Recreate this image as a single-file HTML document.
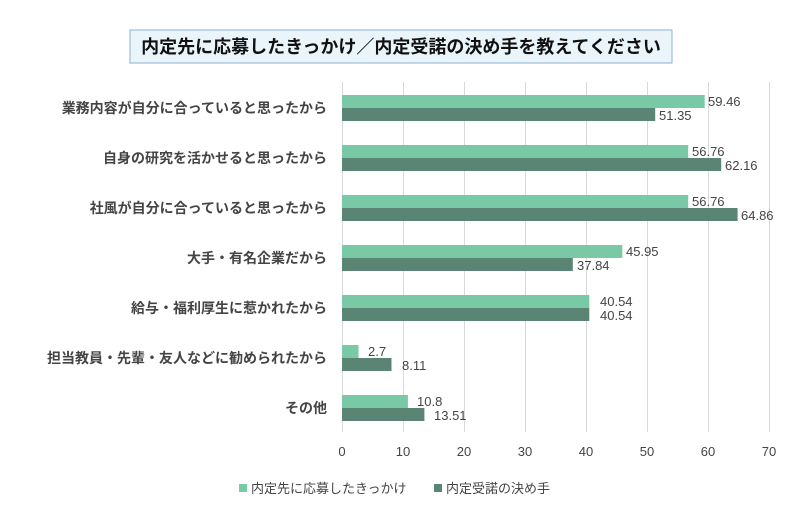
<!DOCTYPE html><html><head><meta charset="utf-8"><style>body{margin:0;background:#fff}svg{display:block}text{font-family:"Liberation Sans","Noto Sans CJK JP",sans-serif}</style></head><body>
<svg width="800" height="530" xmlns="http://www.w3.org/2000/svg">
<rect x="130" y="30" width="542" height="33" fill="#e9f5fb" stroke="#8eb2d0" stroke-width="1"/>
<text x="401" y="53" text-anchor="middle" font-size="18" font-weight="bold" fill="#111">内定先に応募したきっかけ／内定受諾の決め手を教えてください</text>
<g stroke="#d9d9d9" stroke-width="1">
<line x1="342.5" y1="82" x2="342.5" y2="432"/><line x1="403.5" y1="82" x2="403.5" y2="432"/><line x1="464.5" y1="82" x2="464.5" y2="432"/><line x1="525.5" y1="82" x2="525.5" y2="432"/><line x1="586.5" y1="82" x2="586.5" y2="432"/><line x1="647.5" y1="82" x2="647.5" y2="432"/><line x1="708.5" y1="82" x2="708.5" y2="432"/><line x1="769.5" y1="82" x2="769.5" y2="432"/>
</g>
<g font-size="13" fill="#444" text-anchor="middle">
<text x="342" y="456">0</text><text x="403" y="456">10</text><text x="464" y="456">20</text><text x="525" y="456">30</text><text x="586" y="456">40</text><text x="647" y="456">50</text><text x="708" y="456">60</text><text x="769" y="456">70</text>
</g>
<g font-size="14" fill="#444" text-anchor="end" font-weight="bold">
<text x="327" y="113">業務内容が自分に合っていると思ったから</text>
<text x="327" y="163">自身の研究を活かせると思ったから</text>
<text x="327" y="213">社風が自分に合っていると思ったから</text>
<text x="327" y="263">大手・有名企業だから</text>
<text x="327" y="313">給与・福利厚生に惹かれたから</text>
<text x="327" y="363">担当教員・先輩・友人などに勧められたから</text>
<text x="327" y="413">その他</text>
</g>
<g fill="#79c8a6">
<rect x="342" y="95" width="362.7" height="13"/><rect x="342" y="145" width="346.2" height="13"/><rect x="342" y="195" width="346.2" height="13"/><rect x="342" y="245" width="280.3" height="13"/><rect x="342" y="295" width="247.3" height="13"/><rect x="342" y="345" width="16.5" height="13"/><rect x="342" y="395" width="65.9" height="13"/>
</g>
<g fill="#5a8574">
<rect x="342" y="108" width="313.2" height="13"/><rect x="342" y="158" width="379.2" height="13"/><rect x="342" y="208" width="395.6" height="13"/><rect x="342" y="258" width="230.8" height="13"/><rect x="342" y="308" width="247.3" height="13"/><rect x="342" y="358" width="49.5" height="13"/><rect x="342" y="408" width="82.4" height="13"/>
</g>
<g font-size="13" fill="#444">
<text x="708" y="106">59.46</text><text x="659" y="120">51.35</text>
<text x="692" y="156">56.76</text><text x="725" y="170">62.16</text>
<text x="692" y="206">56.76</text><text x="741" y="220">64.86</text>
<text x="626" y="256">45.95</text><text x="577" y="270">37.84</text>
<text x="600" y="306">40.54</text><text x="600" y="320">40.54</text>
<text x="368" y="356">2.7</text><text x="402" y="370">8.11</text>
<text x="417" y="406">10.8</text><text x="434" y="420">13.51</text>
</g>
<rect x="239" y="484" width="8" height="8" fill="#79c8a6"/>
<text x="251" y="493" font-size="13" fill="#444">内定先に応募したきっかけ</text>
<rect x="434" y="484" width="8" height="8" fill="#5a8574"/>
<text x="446" y="493" font-size="13" fill="#444">内定受諾の決め手</text>
</svg>
</body></html>
